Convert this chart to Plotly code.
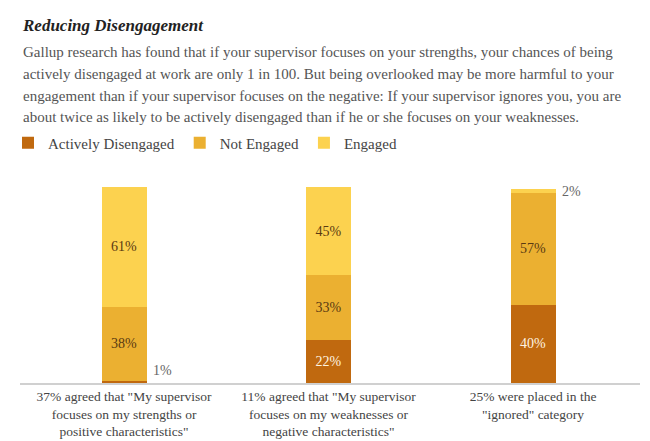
import plotly.graph_objects as go

categories = [
    '37% agreed that "My supervisor<br>focuses on my strengths or<br>positive characteristics"',
    '11% agreed that "My supervisor<br>focuses on my weaknesses or<br>negative characteristics"',
    '25% were placed in the<br>"ignored" category',
]
series_names = ["Actively Disengaged", "Not Engaged", "Engaged"]
actively_disengaged = [1, 22, 40]
not_engaged = [38, 33, 57]
engaged = [61, 45, 2]

colors = ["#C0690F", "#EBB031", "#FCD24F"]
text_colors = ["#FFF4E0", "#5A3A12", "#5A3A12"]
SERIF = "Liberation Serif"

# page has an 8px body margin, so the figure is drawn 8px smaller
OFF = 8
W, H = 650 - OFF, 441 - OFF
T, B = 160 - OFF, 58
plot_h = H - T - B


def ypage(p):
    """paper y for a page pixel row"""
    return (H - B - (p - OFF)) / plot_h


x = [0, 1, 2]
fig = go.Figure()
values = [actively_disengaged, not_engaged, engaged]
for name, vals, col, tcol in zip(series_names, values, colors, text_colors):
    fig.add_trace(go.Bar(
        x=x, y=vals, name=name, marker=dict(color=col, line=dict(width=0)),
        width=0.22,
        text=[f"{v}%" if v >= 5 else "" for v in vals],
        textposition="inside", insidetextanchor="middle",
        textfont=dict(family=SERIF, size=14, color=tcol),
        hoverinfo="skip",
    ))

# small segment labels outside the bars
cum = [0, 0, 0]
for vals in values:
    for i, v in enumerate(vals):
        if v < 5:
            top_seg = cum[i] > 50
            fig.add_annotation(
                x=x[i], y=cum[i] + v, xref="x", yref="y",
                text=f"{v}%", showarrow=False, xshift=38,
                yanchor="middle" if top_seg else "bottom",
                yshift=-2 if top_seg else 1,
                font=dict(family=SERIF, size=14, color="#666666"),
            )
        cum[i] += v

# header text
fig.add_annotation(text="<b><i>Reducing Disengagement</i></b>", xref="paper", yref="paper",
                   x=0, y=ypage(25), xshift=0, showarrow=False,
                   font=dict(family=SERIF, size=17, color="#222"),
                   xanchor="left", yanchor="middle")
body = [
    "Gallup research has found that if your supervisor focuses on your strengths, your chances of being",
    "actively disengaged at work are only 1 in 100. But being overlooked may be more harmful to your",
    "engagement than if your supervisor focuses on the negative: If your supervisor ignores you, you are",
    "about twice as likely to be actively disengaged than if he or she focuses on your weaknesses.",
]
ys = [52, 74, 96, 117]
for line, yy in zip(body, ys):
    fig.add_annotation(text=line, xref="paper", yref="paper", showarrow=False,
                       x=0, y=ypage(yy), xshift=1, xanchor="left", yanchor="middle",
                       font=dict(family=SERIF, size=15, color="#555"))

fig.update_layout(
    width=W, height=H,
    margin=dict(l=20 - OFF, r=10, t=T, b=B, autoexpand=False),
    paper_bgcolor="white", plot_bgcolor="white",
    barmode="stack",
    showlegend=True,
    legend=dict(orientation="h", xref="container", yref="container",
                x=0, xanchor="left", y=1 - (143 - OFF) / H, yanchor="middle",
                font=dict(family=SERIF, size=15, color="#444"),
                itemclick=False, itemdoubleclick=False, traceorder="normal"),
    xaxis=dict(tickvals=x, ticktext=categories, range=[-0.5086, 2.523],
               showline=True, linecolor="#D0D0D0", linewidth=2, ticks="",
               showgrid=False, zeroline=False, automargin=False,
               tickfont=dict(family=SERIF, size=13.5, color="#444")),
    yaxis=dict(range=[0, 113.8], visible=False, showgrid=False, zeroline=False,
               automargin=False),
    font=dict(family=SERIF),
)

fig.write_html("out.html")
